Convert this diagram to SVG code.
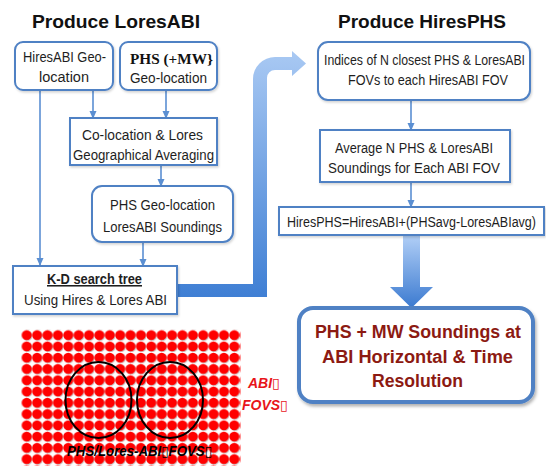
<svg xmlns="http://www.w3.org/2000/svg" width="546" height="466" viewBox="0 0 546 466">
  <style>
    .title { font-family: "Liberation Sans", Arial, sans-serif; font-weight: bold; font-size: 19px; fill: #111; }
    .body { font-family: "Liberation Sans", Arial, sans-serif; font-size: 15.5px; fill: #1e1e1e; }
    .tight { font-size: 14px; }
    .box { fill: #fff; stroke: #4f81c4; stroke-width: 2; }
    .conn { fill: none; stroke: #5b8fd2; stroke-width: 1.6; }
    .result { font-family: "Liberation Sans", Arial, sans-serif; font-weight: bold; font-size: 18px; fill: #8c1a12; }
    .fov { font-family: "Liberation Sans", "DejaVu Sans", Arial, sans-serif; font-weight: bold; font-style: italic; font-size: 14px; }
  </style>
  <defs>
    <marker id="tip" markerUnits="userSpaceOnUse" markerWidth="8" markerHeight="8" viewBox="0 0 8 8" refX="7" refY="4" orient="auto">
      <path d="M0,0.5 L8,4 L0,7.5 Z" fill="#5b8fd2"/>
    </marker>
    <linearGradient id="bentFill" x1="0" y1="0" x2="0" y2="1">
      <stop offset="0" stop-color="#a9c9f3"/>
      <stop offset="1" stop-color="#3f7fd4"/>
    </linearGradient>
    <linearGradient id="downFill" x1="0" y1="0" x2="0" y2="1">
      <stop offset="0" stop-color="#b0cef6"/>
      <stop offset="1" stop-color="#3b7ad0"/>
    </linearGradient>
    <filter id="shadow" x="-10%" y="-10%" width="125%" height="130%">
      <feDropShadow dx="1.5" dy="2.5" stdDeviation="1.8" flood-color="#000" flood-opacity="0.3"/>
    </filter>
    <filter id="softShadow" x="-10%" y="-10%" width="125%" height="130%">
      <feDropShadow dx="1" dy="1.5" stdDeviation="1.2" flood-color="#000" flood-opacity="0.18"/>
    </filter>
    <!-- grid of sounding footprints -->
    <pattern id="dots" patternUnits="userSpaceOnUse" x="21.5" y="329.5" width="10.38" height="11.27">
      <circle cx="6" cy="6.4" r="5" fill="#c9c9c9"/>
      <circle cx="5.2" cy="5.6" r="5" fill="#ff0000"/>
    </pattern>
  </defs>

  <rect width="546" height="466" fill="#fff"/>

  <!-- section titles -->
  <text class="title" x="32" y="28" textLength="168" lengthAdjust="spacingAndGlyphs">Produce LoresABI</text>
  <text class="title" x="338" y="28" textLength="168" lengthAdjust="spacingAndGlyphs">Produce HiresPHS</text>

  <!-- connectors -->
  <g id="connectors">
    <path class="conn" d="M40,90 V265" marker-end="url(#tip)"/>
    <path class="conn" d="M93,90 V118" marker-end="url(#tip)"/>
    <path class="conn" d="M166,90 V118" marker-end="url(#tip)"/>
    <path class="conn" d="M161,165 V186" marker-end="url(#tip)"/>
    <path class="conn" d="M143,242 V266" marker-end="url(#tip)"/>
    <path class="conn" d="M411,100 V130" marker-end="url(#tip)"/>
    <path class="conn" d="M411,182 V207" marker-end="url(#tip)"/>
    <!-- bent block arrow from the search tree to the HiresPHS column -->
    <path id="bent-arrow" d="M177,284 L253,284 L253,79 A22,22 0 0 1 275,57 L292,57 L292,51 L306,63.5 L292,76 L292,70 L275,70 A8,8 0 0 0 267,78 L267,297 L177,297 Z" fill="url(#bentFill)"/>
    <!-- block arrow down to the final product -->
    <path id="down-arrow" d="M403,236 H420 V287 H433 L411.5,308 L390,287 H403 Z" fill="url(#downFill)"/>
  </g>

  <g id="hiresabi-geo">
    <rect class="box" x="15" y="42" width="98" height="48" rx="8" filter="url(#softShadow)"/>
    <text class="body" x="23" y="62" textLength="83" lengthAdjust="spacingAndGlyphs">HiresABI Geo-</text>
    <text class="body" x="39" y="82" textLength="50" lengthAdjust="spacingAndGlyphs">location</text>
  </g>

  <g id="phs-geo">
    <rect class="box" x="120" y="42" width="97" height="48" rx="8" filter="url(#softShadow)"/>
    <text x="130" y="64" textLength="83" lengthAdjust="spacingAndGlyphs" style="font-family: 'Liberation Serif', 'Times New Roman', serif; font-weight: bold; font-size: 15px; fill: #111;">PHS (+MW}</text>
    <text class="body" x="130" y="83" textLength="77" lengthAdjust="spacingAndGlyphs">Geo-location</text>
  </g>

  <g id="colocation">
    <rect class="box" x="70" y="118" width="147" height="47" filter="url(#softShadow)"/>
    <text class="body" x="82" y="140" textLength="121" lengthAdjust="spacingAndGlyphs">Co-location &amp; Lores</text>
    <text class="body" x="73" y="160" textLength="141" lengthAdjust="spacingAndGlyphs">Geographical Averaging</text>
  </g>

  <g id="phs-lores">
    <rect class="box" x="92" y="186" width="141" height="56" rx="10" filter="url(#softShadow)"/>
    <text class="body" x="110" y="210" textLength="105" lengthAdjust="spacingAndGlyphs">PHS Geo-location</text>
    <text class="body" x="103" y="232" textLength="119" lengthAdjust="spacingAndGlyphs">LoresABI Soundings</text>
  </g>

  <g id="kd-tree">
    <rect class="box" x="13" y="266" width="164" height="48" filter="url(#softShadow)"/>
    <text class="body" x="47" y="284" textLength="95" lengthAdjust="spacingAndGlyphs" font-weight="bold" text-decoration="underline">K-D search tree</text>
    <text class="body" x="24" y="305" textLength="143" lengthAdjust="spacingAndGlyphs">Using Hires &amp; Lores ABI</text>
  </g>

  <g id="indices">
    <rect class="box" x="318" y="42" width="212" height="58" rx="10" filter="url(#softShadow)"/>
    <text class="body tight" x="324" y="65" textLength="201" lengthAdjust="spacingAndGlyphs">Indices of N closest PHS &amp; LoresABI</text>
    <text class="body" x="348" y="85" textLength="160" lengthAdjust="spacingAndGlyphs">FOVs to each HiresABI FOV</text>
  </g>

  <g id="average">
    <rect class="box" x="320" y="130" width="190" height="52" filter="url(#softShadow)"/>
    <text class="body" x="335" y="153" textLength="158" lengthAdjust="spacingAndGlyphs">Average N PHS &amp; LoresABI</text>
    <text class="body" x="328" y="173" textLength="172" lengthAdjust="spacingAndGlyphs">Soundings for Each ABI FOV</text>
  </g>

  <g id="formula">
    <rect class="box" x="279" y="207" width="265" height="28" filter="url(#softShadow)"/>
    <text class="body tight" x="287" y="227" textLength="249" lengthAdjust="spacingAndGlyphs">HiresPHS=HiresABI+(PHSavg-LoresABIavg)</text>
  </g>

  <g id="result">
    <rect x="299" y="308" width="234" height="94" rx="14" fill="#fff" stroke="#4f81c4" stroke-width="4" filter="url(#shadow)"/>
    <text class="result" x="315" y="338" textLength="206" lengthAdjust="spacingAndGlyphs">PHS + MW Soundings at</text>
    <text class="result" x="322" y="363" textLength="191" lengthAdjust="spacingAndGlyphs">ABI Horizontal &amp; Time</text>
    <text class="result" x="372" y="387" textLength="91" lengthAdjust="spacingAndGlyphs">Resolution</text>
  </g>

  <!-- footprint illustration -->
  <g id="fov-grid">
    <rect x="21.5" y="329.5" width="219" height="137" fill="url(#dots)"/>
    <ellipse cx="98.5" cy="400" rx="33" ry="38" fill="none" stroke="#000" stroke-width="2"/>
    <ellipse cx="170" cy="400" rx="33" ry="38" fill="none" stroke="#000" stroke-width="2"/>
    <text class="fov" x="67" y="456" textLength="145" lengthAdjust="spacingAndGlyphs" font-size="15" fill="#000">PHS/Lores-ABI▯FOVS▯</text>
    <text class="fov" x="248" y="388" fill="#e8141a">ABI▯</text>
    <text class="fov" x="242" y="410" fill="#e8141a">FOVS▯</text>
  </g>
</svg>
